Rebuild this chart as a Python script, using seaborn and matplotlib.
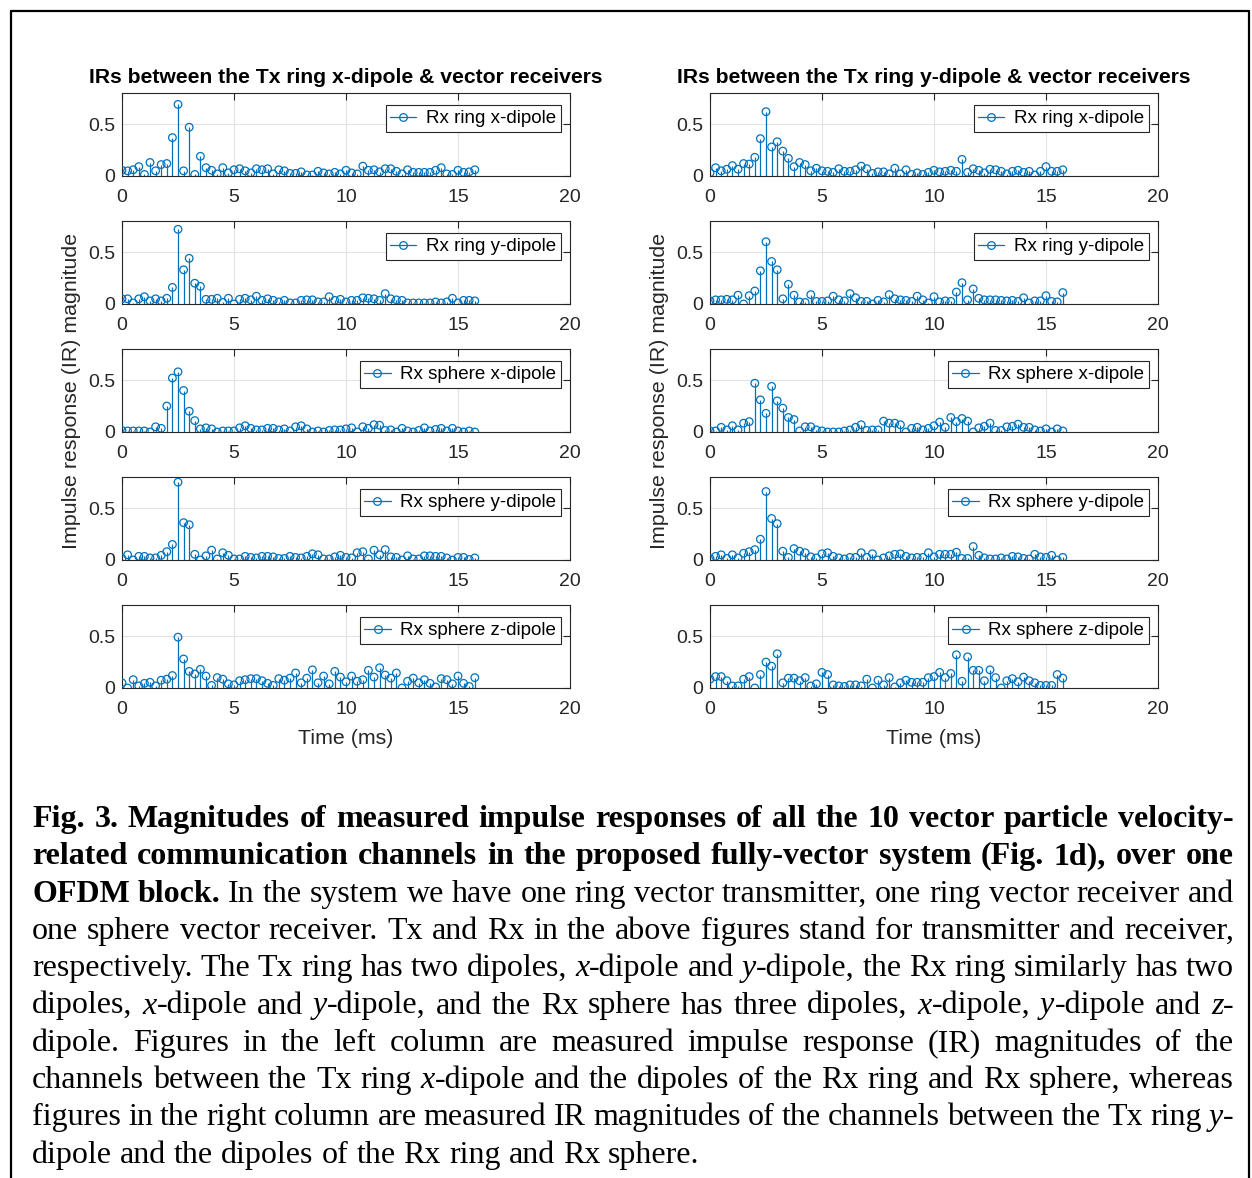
import numpy as np
import matplotlib
matplotlib.use('Agg')
import matplotlib.pyplot as plt
import seaborn as sns
from matplotlib.lines import Line2D
from matplotlib.legend_handler import HandlerLine2D

# sampling grid of the IRs (ms)
time_ms = np.arange(64) * 0.25

# Tx ring x-dipole -> receivers (left column)
tx_x_rx_ring_x = [0.055, 0.05, 0.06, 0.09, 0.015, 0.13, 0.05, 0.11, 0.12, 0.37, 0.69, 0.05, 0.47, 0.015, 0.19, 0.08,
                  0.055, 0.02, 0.08, 0.03, 0.06, 0.07, 0.05, 0.03, 0.07, 0.06, 0.07, 0.02, 0.06, 0.05, 0.025, 0.025,
                  0.04, 0.01, 0.01, 0.045, 0.03, 0.02, 0.035, 0.02, 0.055, 0.03, 0.02, 0.095, 0.055, 0.06, 0.04, 0.07,
                  0.07, 0.045, 0.02, 0.06, 0.035, 0.035, 0.035, 0.035, 0.055, 0.08, 0.02, 0.015, 0.055, 0.035, 0.04, 0.06]
tx_x_rx_ring_y = [0.05, 0.05, 0.01, 0.05, 0.07, 0.03, 0.05, 0.03, 0.055, 0.16, 0.72, 0.33, 0.44, 0.2, 0.17, 0.045,
                  0.045, 0.055, 0.015, 0.055, 0.0, 0.045, 0.055, 0.04, 0.075, 0.035, 0.05, 0.035, 0.02, 0.035, 0.01, 0.01,
                  0.035, 0.04, 0.04, 0.02, 0.02, 0.07, 0.035, 0.045, 0.02, 0.035, 0.035, 0.06, 0.055, 0.05, 0.035, 0.1,
                  0.05, 0.04, 0.035, 0.01, 0.01, 0.01, 0.01, 0.01, 0.02, 0.01, 0.02, 0.055, 0.01, 0.035, 0.035, 0.03]
tx_x_rx_sph_x = [0.015, 0.01, 0.01, 0.01, 0.01, 0.0, 0.05, 0.035, 0.25, 0.52, 0.58, 0.4, 0.2, 0.11, 0.03, 0.04,
                 0.03, 0.0, 0.01, 0.01, 0.01, 0.04, 0.06, 0.035, 0.02, 0.02, 0.035, 0.035, 0.02, 0.03, 0.01, 0.05,
                 0.06, 0.03, 0.0, 0.01, 0.0, 0.015, 0.02, 0.02, 0.03, 0.04, 0.0, 0.05, 0.035, 0.07, 0.065, 0.015,
                 0.02, 0.0, 0.035, 0.01, 0.0, 0.015, 0.04, 0.01, 0.025, 0.035, 0.01, 0.035, 0.01, 0.0, 0.01, 0.0]
tx_x_rx_sph_y = [0.015, 0.05, 0.0, 0.035, 0.035, 0.02, 0.02, 0.045, 0.08, 0.15, 0.75, 0.36, 0.34, 0.055, 0.0, 0.04,
                 0.095, 0.01, 0.07, 0.045, 0.01, 0.01, 0.035, 0.025, 0.02, 0.035, 0.035, 0.03, 0.015, 0.015, 0.035, 0.025,
                 0.02, 0.035, 0.06, 0.05, 0.01, 0.01, 0.03, 0.045, 0.025, 0.02, 0.07, 0.08, 0.01, 0.095, 0.05, 0.1,
                 0.03, 0.025, 0.0, 0.04, 0.01, 0.01, 0.04, 0.04, 0.035, 0.035, 0.02, 0.0, 0.025, 0.025, 0.005, 0.02]
tx_x_rx_sph_z = [0.05, 0.0, 0.08, 0.02, 0.045, 0.055, 0.02, 0.075, 0.085, 0.12, 0.49, 0.28, 0.16, 0.135, 0.18, 0.115,
                 0.025, 0.1, 0.085, 0.04, 0.03, 0.07, 0.08, 0.09, 0.09, 0.07, 0.045, 0.025, 0.09, 0.075, 0.095, 0.145,
                 0.05, 0.095, 0.175, 0.05, 0.115, 0.04, 0.16, 0.105, 0.06, 0.115, 0.065, 0.08, 0.17, 0.105, 0.195, 0.125,
                 0.095, 0.145, 0.0, 0.065, 0.095, 0.05, 0.08, 0.045, 0.01, 0.09, 0.08, 0.04, 0.115, 0.045, 0.015, 0.1]

# Tx ring y-dipole -> receivers (right column)
tx_y_rx_ring_x = [0.03, 0.08, 0.05, 0.065, 0.1, 0.065, 0.12, 0.115, 0.18, 0.36, 0.62, 0.28, 0.33, 0.24, 0.17, 0.09,
                  0.13, 0.11, 0.05, 0.075, 0.05, 0.045, 0.035, 0.07, 0.045, 0.045, 0.06, 0.095, 0.07, 0.025, 0.04, 0.04,
                  0.02, 0.075, 0.02, 0.06, 0.015, 0.03, 0.015, 0.035, 0.055, 0.04, 0.045, 0.055, 0.045, 0.16, 0.035, 0.07,
                  0.055, 0.03, 0.065, 0.06, 0.045, 0.02, 0.045, 0.055, 0.035, 0.045, 0.01, 0.045, 0.09, 0.045, 0.045, 0.06]
tx_y_rx_ring_y = [0.03, 0.04, 0.04, 0.045, 0.04, 0.085, 0.0, 0.08, 0.125, 0.32, 0.6, 0.41, 0.33, 0.05, 0.19, 0.085,
                  0.02, 0.015, 0.09, 0.025, 0.025, 0.03, 0.075, 0.04, 0.03, 0.1, 0.06, 0.025, 0.025, 0.0, 0.035, 0.02,
                  0.09, 0.05, 0.04, 0.035, 0.025, 0.075, 0.04, 0.01, 0.07, 0.02, 0.03, 0.025, 0.115, 0.205, 0.04, 0.145,
                  0.055, 0.04, 0.04, 0.04, 0.035, 0.03, 0.035, 0.025, 0.06, 0.01, 0.03, 0.03, 0.08, 0.025, 0.02, 0.11]
tx_y_rx_sph_x = [0.01, 0.01, 0.045, 0.02, 0.06, 0.02, 0.085, 0.1, 0.47, 0.31, 0.18, 0.44, 0.3, 0.23, 0.14, 0.12,
                 0.01, 0.05, 0.05, 0.02, 0.01, 0.0, 0.0, 0.0, 0.01, 0.02, 0.045, 0.07, 0.015, 0.02, 0.02, 0.105,
                 0.085, 0.085, 0.07, 0.0, 0.035, 0.045, 0.02, 0.035, 0.06, 0.095, 0.045, 0.14, 0.1, 0.13, 0.105, 0.0,
                 0.04, 0.055, 0.085, 0.015, 0.015, 0.05, 0.055, 0.075, 0.045, 0.045, 0.02, 0.01, 0.03, 0.0, 0.03, 0.01]
tx_y_rx_sph_y = [0.015, 0.035, 0.05, 0.015, 0.05, 0.02, 0.065, 0.08, 0.1, 0.2, 0.66, 0.4, 0.35, 0.085, 0.025, 0.11,
                 0.085, 0.07, 0.03, 0.02, 0.06, 0.07, 0.035, 0.02, 0.01, 0.025, 0.025, 0.07, 0.025, 0.06, 0.0, 0.02,
                 0.04, 0.055, 0.06, 0.035, 0.02, 0.025, 0.025, 0.07, 0.03, 0.055, 0.055, 0.055, 0.075, 0.015, 0.015, 0.13,
                 0.045, 0.02, 0.01, 0.01, 0.02, 0.01, 0.035, 0.03, 0.015, 0.01, 0.055, 0.03, 0.025, 0.045, 0.0, 0.025]
tx_y_rx_sph_z = [0.085, 0.11, 0.11, 0.07, 0.02, 0.02, 0.085, 0.11, 0.0, 0.13, 0.25, 0.21, 0.33, 0.05, 0.095, 0.095,
                 0.07, 0.1, 0.02, 0.04, 0.15, 0.13, 0.03, 0.02, 0.015, 0.03, 0.03, 0.02, 0.085, 0.0, 0.075, 0.03,
                 0.1, 0.01, 0.05, 0.075, 0.055, 0.055, 0.055, 0.1, 0.11, 0.15, 0.1, 0.14, 0.32, 0.065, 0.3, 0.17,
                 0.17, 0.07, 0.175, 0.1, 0.0, 0.07, 0.09, 0.06, 0.105, 0.07, 0.05, 0.025, 0.025, 0.025, 0.13, 0.095]

rx_labels = ['Rx ring x-dipole', 'Rx ring y-dipole', 'Rx sphere x-dipole', 'Rx sphere y-dipole', 'Rx sphere z-dipole']
col_titles = ['IRs between the Tx ring x-dipole & vector receivers',
              'IRs between the Tx ring y-dipole & vector receivers']
columns = [[tx_x_rx_ring_x, tx_x_rx_ring_y, tx_x_rx_sph_x, tx_x_rx_sph_y, tx_x_rx_sph_z],
           [tx_y_rx_ring_x, tx_y_rx_ring_y, tx_y_rx_sph_x, tx_y_rx_sph_y, tx_y_rx_sph_z]]

caption_runs = [
    [("Fig. 3. Magnitudes of measured impulse responses of all the 10 vector particle velocity-", "bold")],
    [("related communication channels in the proposed fully-vector system (Fig. 1d), over one", "bold")],
    [("OFDM block.", "bold"), ("In the system we have one ring vector transmitter, one ring vector receiver and", "normal")],
    [("one sphere vector receiver. Tx and Rx in the above figures stand for transmitter and receiver,", "normal")],
    [("respectively. The Tx ring has two dipoles, _x_-dipole and _y_-dipole, the Rx ring similarly has two", "normal")],
    [("dipoles, _x_-dipole and _y_-dipole, and the Rx sphere has three dipoles, _x_-dipole, _y_-dipole and _z_-", "normal")],
    [("dipole. Figures in the left column are measured impulse response (IR) magnitudes of the", "normal")],
    [("channels between the Tx ring _x_-dipole and the dipoles of the Rx ring and Rx sphere, whereas", "normal")],
    [("figures in the right column are measured IR magnitudes of the channels between the Tx ring _y_-", "normal")],
    [("dipole and the dipoles of the Rx ring and Rx sphere.", "normal")],
]

BLUE = '#0072BD'
DARK = '#262626'
W, H = 1252, 1178


def fx(px):
    return px / W


def fy(py):
    return 1 - py / H


class HandlerRightMarker(HandlerLine2D):
    # matlab style stem legend: line with the circle near the right end
    def get_xdata(self, legend, xdescent, ydescent, width, height, fontsize):
        xdata = np.array([-xdescent, -xdescent + width])
        return xdata, np.array([-xdescent + width * 0.82])


sns.set_theme(style='white')
plt.rcParams['font.family'] = ['Liberation Sans', 'DejaVu Sans']

fig = plt.figure(figsize=(W / 100, H / 100), dpi=100)

row_bottoms = [176, 304, 432, 560, 688]
col_lefts = [122, 710]
ax_w, ax_h = 448, 83

for c in range(2):
    for r in range(5):
        ax = fig.add_axes([fx(col_lefts[c]), fy(row_bottoms[r]), ax_w / W, ax_h / H])
        vals = columns[c][r]
        ax.vlines(time_ms, 0, vals, color=BLUE, lw=0.9, zorder=2)
        sns.scatterplot(x=time_ms, y=vals, ax=ax, marker='o', s=30, color=BLUE,
                        facecolor='none', edgecolor=BLUE, linewidth=0.9, zorder=3, legend=False)
        ax.set_xlim(0, 20)
        ax.set_ylim(0, 0.8)
        ax.set_xticks([0, 5, 10, 15, 20])
        ax.set_xticklabels(['0', '5', '10', '15', '20'])
        ax.set_yticks([0, 0.5])
        ax.set_yticklabels(['0', '0.5'])
        ax.grid(True, color='#e2e2e2', lw=0.8)
        ax.set_axisbelow(True)
        for sp in ax.spines.values():
            sp.set_visible(True)
            sp.set_color(DARK)
            sp.set_linewidth(0.8)
        ax.tick_params(axis='both', direction='in', top=True, right=True, length=5, width=0.8,
                       colors=DARK, labelsize=14)
        ax.tick_params(axis='x', pad=9)
        ax.tick_params(axis='y', pad=5)
        ax.set_xlabel('')
        ax.set_ylabel('')

        proxy = Line2D([], [], color=BLUE, lw=0.9, marker='o', ms=5.5, mfc='none', mew=0.9)
        leg = ax.legend([proxy], [rx_labels[r]], loc='upper right', bbox_to_anchor=(1.0, 0.965),
                        handler_map={proxy: HandlerRightMarker()},
                        frameon=True, fancybox=False, edgecolor=DARK, framealpha=1, fontsize=13.5,
                        borderpad=0.25, handlelength=1.4, handletextpad=0.5, borderaxespad=0.5)
        leg.get_frame().set_linewidth(0.8)
        for t in leg.get_texts():
            t.set_color('black')

        if r == 0:
            ax.set_title(col_titles[c], fontweight='bold', fontsize=15.2, pad=7, color='black')
        if r == 2:
            ax.set_ylabel('Impulse response (IR) magnitude', fontsize=15.4, color=DARK, labelpad=5)
        if r == 4:
            ax.set_xlabel('Time (ms)', fontsize=15.4, color=DARK, labelpad=8)

# outer frame of the figure box
frame_kw = dict(color='black', lw=1.6, transform=fig.transFigure)
fig.add_artist(Line2D([fx(11), fx(11)], [fy(11), 0], **frame_kw))
fig.add_artist(Line2D([fx(11), fx(1249)], [fy(11), fy(11)], **frame_kw))
fig.add_artist(Line2D([fx(1249), fx(1249)], [fy(11), 0], **frame_kw))

# caption, justified by hand
fig.canvas.draw()
renderer = fig.canvas.get_renderer()
cap_fs = 23
serif = 'Liberation Serif'
x_left, x_right = 32, 1234
space_w = 0.25 * cap_fs * 100 / 72


def seg_width(s, weight, style):
    t = fig.text(0, 0, s, fontsize=cap_fs, family=serif, weight=weight, style=style)
    w = t.get_window_extent(renderer).width
    t.remove()
    return w


for i, runs in enumerate(caption_runs):
    words = []
    for text, weight in runs:
        for w in text.split(' '):
            segs = []
            for k, part in enumerate(w.split('_')):
                if part:
                    segs.append((part, weight, 'italic' if k % 2 else 'normal'))
            words.append(segs)
    widths = [[seg_width(*s) for s in segs] for segs in words]
    total = sum(sum(ws) for ws in widths)
    if i == len(caption_runs) - 1:
        gap = space_w
    else:
        gap = (x_right - x_left - total) / (len(words) - 1)
    base = 827 + 37.3 * i
    x = x_left
    for segs, ws in zip(words, widths):
        for (s, weight, style), sw in zip(segs, ws):
            fig.text(fx(x), fy(base), s, fontsize=cap_fs, family=serif, weight=weight, style=style,
                     ha='left', va='baseline', color='black')
            x += sw
        x += gap

fig.savefig('out.png', dpi=100, facecolor='white')
